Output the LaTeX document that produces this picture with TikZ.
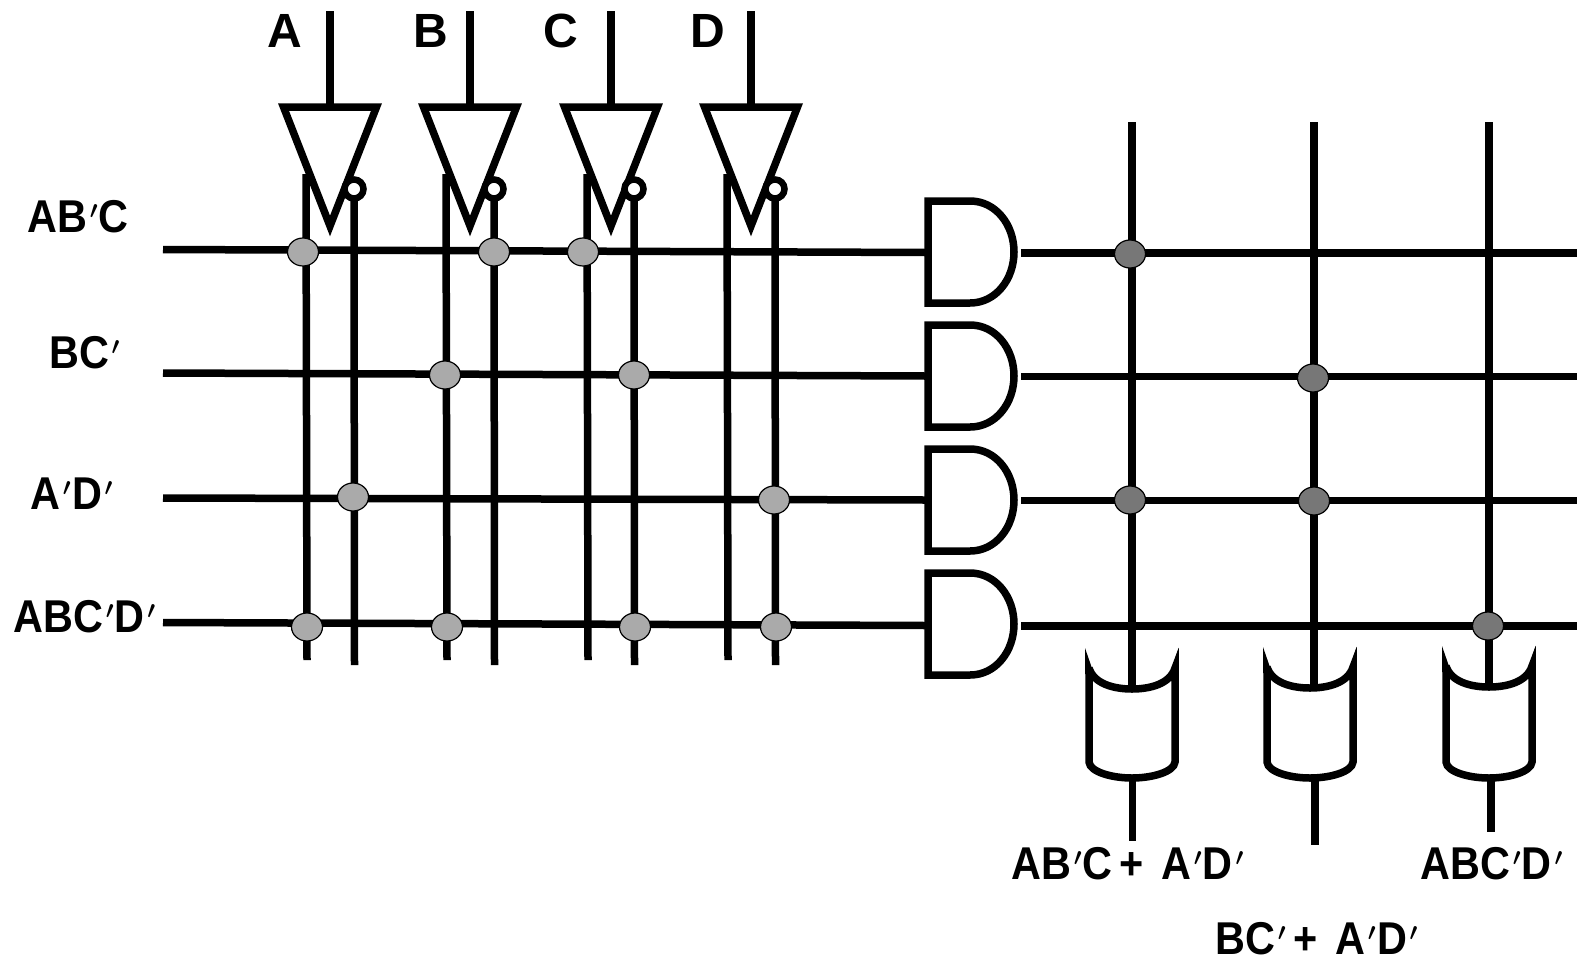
\documentclass[tikz,border=0pt]{standalone}
\usepackage{xcolor}
\usepackage{fontspec}
\usepackage{tikz}
\usetikzlibrary{calc}
\usetikzlibrary{shapes.geometric}
\setsansfont{Liberation Sans}

\definecolor{dotlight}{HTML}{AAAAAA}
\definecolor{dotdark}{HTML}{777777}
\newcommand{\pr}{\kern3pt\raisebox{14pt}{\boldmath$\scriptstyle\prime$}\kern1.5pt}
\tikzset{
	wire/.style={line width=7.5pt},
	gate/.style={line width=7.5pt,miter limit=20},
	dot/.style={draw,ellipse,line width=1.2pt,minimum width=31pt,minimum height=28pt,inner sep=0pt},
	lbl/.style={font=\sffamily\bfseries\fontsize{46}{50}\selectfont,inner sep=0pt,xscale=0.9},
	inlbl/.style={font=\sffamily\bfseries\fontsize{48}{50}\selectfont,inner sep=0pt}
}

\begin{document}
\begin{tikzpicture}[x=1pt,y=-1pt]
	\useasboundingbox (0,0) rectangle (1577,959);

	% inverters and their two outputs
	\foreach \n/\x/\l/\r/\xl in {A/330/306/354/285, B/470/446/494/431, C/611/587/634/561, D/751/727/775/708} {
		\coordinate (in\n) at (\x,11);
		\coordinate (top\n) at (\x,105);
		\coordinate (t\n) at (\l,174);
		\coordinate (b\n) at ($(\l,660)+(1,0)$);
		\coordinate (tn\n) at (\r,189);
		\coordinate (bn\n) at ($(\r,665)+(0.5,0)$);
		\draw [wire] (t\n) -- (b\n);
		\draw [wire] (tn\n) -- (bn\n);
		\draw [wire] (in\n) -- (top\n);
		\draw [gate] (\x-46.5,107) -- (\x+46.5,107) -- (\x,226) -- cycle;
		\node [draw,circle,fill=white,line width=6.5pt,minimum size=19pt,inner sep=0pt] (inv\n) at (tn\n) {};
		\node [inlbl] (name\n) at (\xl,31) {\n};
	}

	% rows with their AND gates
	\foreach \i/\ya/\yb/\top in {1/249.5/252.5/201, 2/373/376/325, 3/498/500/449, 4/622.5/625.5/573} {
		\coordinate (rowin\i) at (163,\ya);
		\coordinate (gatein\i) at (926,\yb);
		\coordinate (gateout\i) at (1021,\yb+0.5);
		\coordinate (rowout\i) at (1577,\yb+0.5);
		\draw [wire] (rowin\i) -- (gatein\i);
		\draw [wire] (gateout\i) -- (rowout\i);
		\draw [gate] (928,\top) -- (970,\top) .. controls (996,\top) and (1014,\top+24) .. (1014,\top+51)
			.. controls (1014,\top+78) and (996,\top+102) .. (970,\top+102) -- (928,\top+102) -- cycle;
	}

	% OR gates with the output columns
	\foreach \j/\c/\x/\xo/\ye/\tip in {1/1132/1132/1132.5/841/648, 2/1310/1314/1315/845/647, 3/1489/1489/1491/832/646} {
		\coordinate (colin\j) at (\x,122);
		\coordinate (colend\j) at (\x,686);
		\coordinate (orout\j) at (\xo,778);
		\coordinate (colout\j) at (\xo,\ye);
		\draw [wire] (colin\j) -- (colend\j);
		\draw [wire] (orout\j) -- (colout\j);
		\fill (\c-47,\tip) -- (\c-38,\tip+26) -- (\c-47,\tip+26) -- cycle;
		\fill (\c+46.5,\tip) -- (\c+38,\tip+26) -- (\c+46.5,\tip+26) -- cycle;
		\draw [gate] (\c-43,\tip+20) .. controls (\c-38,\tip+36) and (\c-18,\tip+41) .. (\c,\tip+41)
			.. controls (\c+18,\tip+41) and (\c+38,\tip+36) .. (\c+43,\tip+20)
			-- (\c+43,762) .. controls (\c+42,772) and (\c+20,778) .. (\c,778)
			.. controls (\c-20,778) and (\c-42,772) .. (\c-43,762) -- (\c-43,\tip+20);
	}

	% connections
	\foreach \p/\q/\name in {303/252/a1, 494/252/a2, 583/252/a3, 445/375/a4, 634/375/a5, 353/497/a6, 774/500/a7, 307/627/a8, 447/627/a9, 635/627/a10, 776/627/a11} {
		\node [dot,fill=dotlight] (\name) at (\p,\q) {};
	}
	\foreach \p/\q/\name in {1130/254/o1, 1313/378/o2, 1130/500/o3, 1314/501/o4, 1488/626/o5} {
		\node [dot,fill=dotdark] (\name) at (\p,\q) {};
	}

	\node [lbl] (termone) at (78,217) {AB\pr C};
	\node [lbl] (termtwo) at (85,353) {BC\pr};
	\node [lbl] (termthree) at (72,494) {A\pr D\pr};
	\node [lbl] (termfour) at (85,617) {ABC\pr D\pr};
	\node [lbl] (outone) at (1128,864) {AB\pr C\kern7pt+\kern20pt A\pr D\pr};
	\node [lbl] (outtwo) at (1317,939) {BC\pr\kern7pt+\kern20pt A\pr D\pr};
	\node [lbl] (outthree) at (1492,864) {ABC\pr D\pr};
\end{tikzpicture}
\end{document}
